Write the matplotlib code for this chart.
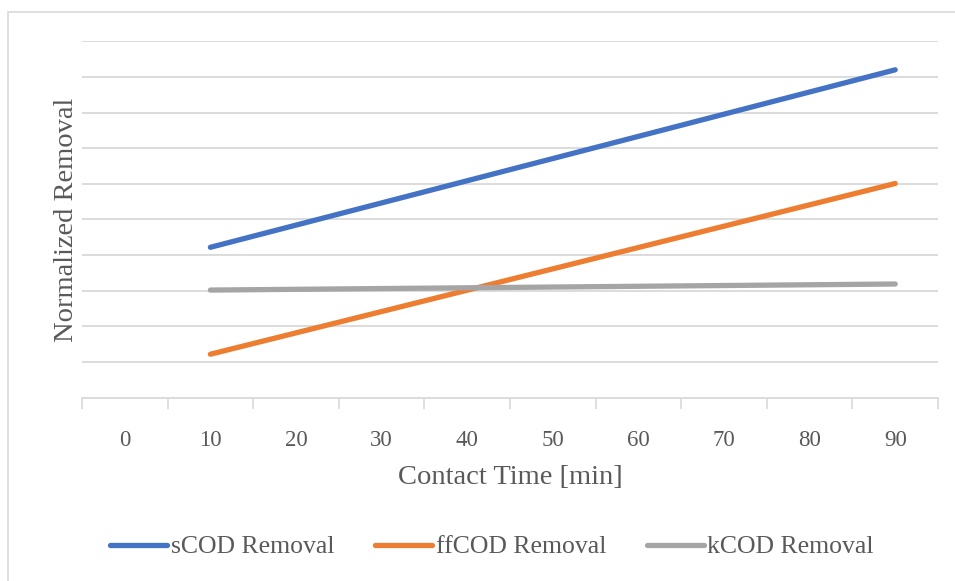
import matplotlib.pyplot as plt
from matplotlib.patches import Rectangle
import numpy as np

# contact time categories [min]
categories = ["0", "10", "20", "30", "40", "50", "60", "70", "80", "90"]
series_x = ["10", "90"]
scod = [0.422, 0.920]
ffcod = [0.122, 0.601]
kcod = [0.302, 0.319]

colors = {"sCOD Removal": "#4472C4", "ffCOD Removal": "#ED7D31", "kCOD Removal": "#A5A5A5"}
text_color = "#595959"
grid_color = "#D9D9D9"

plt.rcParams["font.family"] = ["Liberation Serif", "DejaVu Serif"]

fig = plt.figure(figsize=(9.55, 5.81), dpi=100)
ax = fig.add_axes([82 / 955, 1 - 397.7 / 581, (938 - 82) / 955, (397.7 - 41.3) / 581])

# chart border (Excel chart area)
fig.patches.append(Rectangle((8 / 955, -0.1), 1.2, 1 - 12 / 581 + 0.1,
                             transform=fig.transFigure, fill=False,
                             edgecolor="#D9D9D9", linewidth=1.2))

xpos = {c: i for i, c in enumerate(categories)}
for name, vals in [("sCOD Removal", scod), ("ffCOD Removal", ffcod), ("kCOD Removal", kcod)]:
    ax.plot([xpos[c] for c in series_x], vals, color=colors[name], linewidth=3.8,
            solid_capstyle="round", label=name)

ax.set_xlim(-0.5, len(categories) - 0.5)
ax.set_ylim(0, 1.0)
ax.set_yticks(np.arange(0.1, 1.01, 0.1))
ax.yaxis.grid(True, color=grid_color, linewidth=1.3)
ax.set_axisbelow(True)
ax.tick_params(axis="y", left=False, labelleft=False)

ax.set_xticks(range(len(categories)))
ax.set_xticklabels(categories)
ax.set_xticks(np.arange(-0.5, len(categories)), minor=True)
ax.tick_params(axis="x", which="major", length=0, pad=23, labelsize=16.5, labelcolor=text_color)
ax.tick_params(axis="x", which="minor", length=8, width=1.2, color=grid_color)

for s in ["top", "right", "left"]:
    ax.spines[s].set_visible(False)
ax.spines["bottom"].set_color(grid_color)
ax.spines["bottom"].set_linewidth(1.3)

ax.set_xlabel("Contact Time [min]", fontsize=20.5, color=text_color, labelpad=10)
ax.set_ylabel("Normalized Removal", fontsize=20.5, color=text_color, labelpad=2)

fig.legend(loc="center", bbox_to_anchor=(492 / 955, 1 - 547 / 581), ncol=3,
           frameon=False, fontsize=18.5, labelcolor=text_color,
           handlelength=2.2, handletextpad=0.15, columnspacing=1.6)

plt.savefig("out.png", dpi=100)
plt.close()
